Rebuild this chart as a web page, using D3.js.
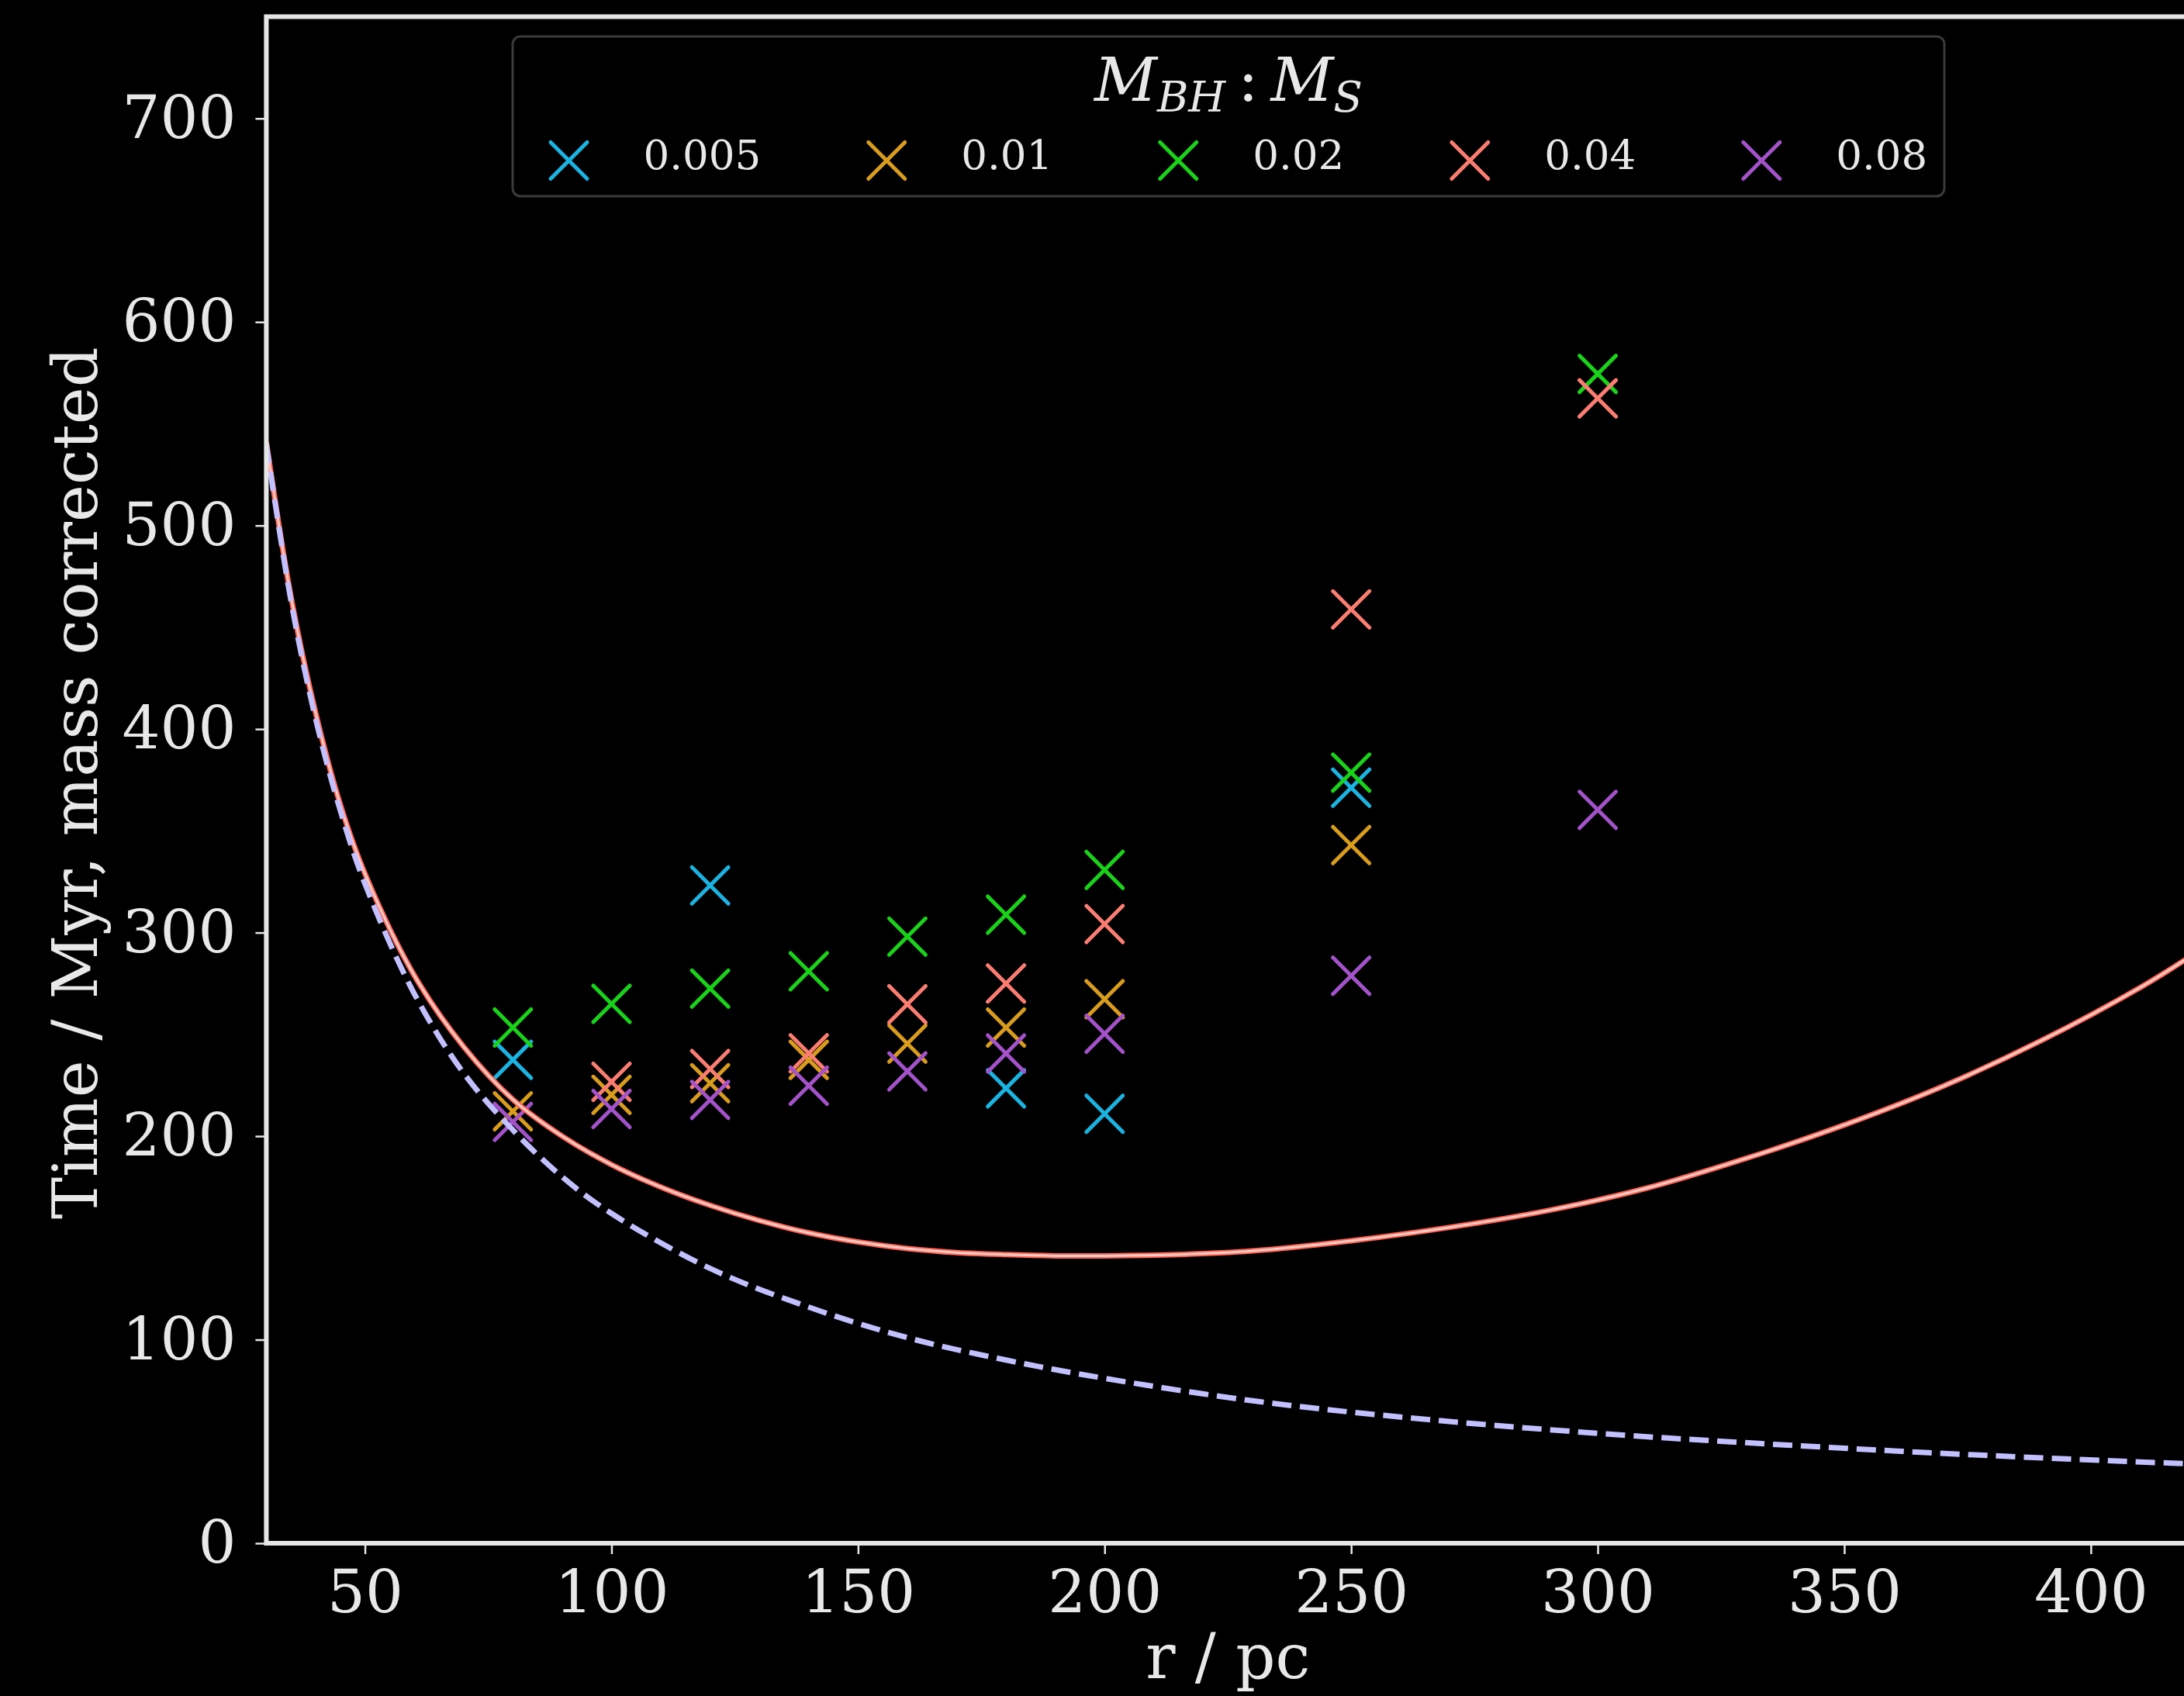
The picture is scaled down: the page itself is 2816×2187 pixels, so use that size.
<!DOCTYPE html>
<html>
<head>
<meta charset="utf-8">
<script src="https://cdn.jsdelivr.net/npm/d3@7"></script>
<style>
  html, body { margin: 0; padding: 0; background: #000; }
  svg { display: block; }
</style>
</head>
<body>
<script>
// ---------------- data ----------------
const radii = [80, 100, 120, 140, 160, 180, 200, 250, 300];
const massRatios = ["0.005", "0.01", "0.02", "0.04", "0.08"];
const seriesColors = ["#1ab4e2", "#d99c1c", "#19d319", "#fb7d72", "#a452ca"];
const t_0005 = [237.5, null, 323.2, null, null, 223.5, 211.0, 371.2, null];
const t_001  = [212.2, 220.3, 226.0, 237.5, 245.5, 253.4, 267.3, 343.0, null];
const t_002  = [253.4, 265.0, 272.5, 281.0, 298.0, 308.8, 330.8, 378.6, 574.5];
const t_004  = [null, 226.7, 233.0, 240.7, 264.8, 275.0, 304.2, 458.8, 562.5];
const t_008  = [207.0, 213.4, 217.8, 224.8, 231.8, 240.6, 250.3, 278.8, 360.3];
const seriesValues = [t_0005, t_001, t_002, t_004, t_008];

// solid curve
const solidR = [30, 35, 40, 45, 50, 60, 70, 80, 90, 100, 110, 120, 130, 140, 150, 160, 170, 180, 190, 200, 215, 230, 250, 270, 290, 310, 330, 350, 370, 390, 410, 420];
const solidT = [541, 465, 408, 363, 329, 279, 244, 218, 200, 186, 175, 166, 158.5, 152.5, 148, 144.8, 142.8, 141.8, 141.2, 141.2, 141.8, 143.6, 148.6, 155.2, 163.5, 174.5, 189, 205.5, 224.5, 247, 273, 288];
// dashed curve
const dashR = [30, 35, 40, 45, 50, 60, 70, 80, 90, 100, 120, 140, 160, 180, 200, 230, 260, 300, 340, 380, 420];
const dashT = [540, 463, 405, 360, 324, 270, 231, 203, 180, 162, 135, 116, 101, 90, 81, 70, 62, 54, 48, 43, 39];

const xTicks = [50, 100, 150, 200, 250, 300, 350, 400];
const yTicks = [0, 100, 200, 300, 400, 500, 600, 700];

// ---------------- layout ----------------
const W = 2816, H = 2187;
const FONT = "'DejaVu Serif', serif";
const svg = d3.select("body").append("svg").attr("width", W).attr("height", H)
  .style("background", "#000");
svg.append("rect").attr("width", W).attr("height", H).attr("fill", "#000");

const x = d3.scaleLinear().domain([30, 420]).range([343.4, 343.4 + 390 * 6.358]);
const y = d3.scaleLinear().domain([0, 750]).range([1990, 21.5]);

const defs = svg.append("defs");
defs.append("clipPath").attr("id", "plotclip").append("rect")
  .attr("x", x(30)).attr("y", y(750)).attr("width", x(420) - x(30)).attr("height", y(0) - y(750));

// axes
const axisColor = "#e6e6e6";
const gx = svg.append("g").attr("transform", `translate(0,${y(0)})`)
  .call(d3.axisBottom(x).tickValues(xTicks).tickFormat(d3.format("d")).tickSize(14).tickPadding(20).tickSizeOuter(0));
const gy = svg.append("g").attr("transform", `translate(${x(30)},0)`)
  .call(d3.axisLeft(y).tickValues(yTicks).tickFormat(d3.format("d")).tickSize(14).tickPadding(25).tickSizeOuter(0));
[gx, gy].forEach(g => {
  g.select(".domain").remove();
  g.selectAll(".tick line").attr("stroke", axisColor).attr("stroke-width", 2.5);
  g.selectAll(".tick text").attr("fill", "#e8e8e8").style("font-family", FONT).style("font-size", "77px");
});

// scatter markers (drawn before the lines)
const half = 23.5;
const markers = svg.append("g").attr("clip-path", "url(#plotclip)");
seriesValues.forEach((vals, si) => {
  const pts = radii.map((r, i) => ({ r, t: vals[i] })).filter(d => d.t !== null);
  markers.append("g").selectAll("path").data(pts).join("path")
    .attr("d", d => {
      const cx = x(d.r), cy = y(d.t);
      return `M${cx - half},${cy - half}L${cx + half},${cy + half}M${cx - half},${cy + half}L${cx + half},${cy - half}`;
    })
    .attr("stroke", seriesColors[si]).attr("stroke-width", 5).attr("stroke-linecap", "round").attr("fill", "none");
});

// curves
const lineGen = d3.line().x(d => x(d[0])).y(d => y(d[1])).curve(d3.curveCatmullRom.alpha(0.5));
const curves = svg.append("g").attr("clip-path", "url(#plotclip)");
const solidData = solidR.map((r, i) => [r, solidT[i]]);
const dashData = dashR.map((r, i) => [r, dashT[i]]);
curves.append("path").attr("d", lineGen(solidData)).attr("fill", "none")
  .attr("stroke", "#ff6558").attr("stroke-width", 7);
curves.append("path").attr("d", lineGen(solidData)).attr("fill", "none")
  .attr("stroke", "#ffcdc4").attr("stroke-width", 3);
curves.append("path").attr("d", lineGen(dashData)).attr("fill", "none")
  .attr("stroke", "#c2c0ff").attr("stroke-width", 7).attr("stroke-dasharray", "25,11");

// frame (spines)
svg.append("rect").attr("x", x(30)).attr("y", y(750)).attr("width", x(420) - x(30)).attr("height", y(0) - y(750))
  .attr("fill", "none").attr("stroke", axisColor).attr("stroke-width", 6);

// axis labels
svg.append("text").attr("x", (x(30) + x(420)) / 2).attr("y", 2164)
  .attr("text-anchor", "middle").attr("fill", "#e8e8e8")
  .style("font-family", FONT).style("font-size", "80px").text("r / pc");
svg.append("text").attr("transform", `translate(125,${(y(0) + y(750)) / 2 + 4}) rotate(-90)`)
  .attr("text-anchor", "middle").attr("fill", "#e8e8e8")
  .style("font-family", FONT).style("font-size", "81px").text("Time / Myr, mass corrected");

// legend
const lg = svg.append("g");
lg.append("rect").attr("x", 661).attr("y", 47).attr("width", 1846).attr("height", 206)
  .attr("rx", 10).attr("fill", "#000").attr("fill-opacity", 0.8)
  .attr("stroke", "#3a3a3a").attr("stroke-width", 3);
const title = lg.append("text").attr("x", 1584).attr("y", 130).attr("text-anchor", "middle")
  .attr("fill", "#e8e8e8").style("font-family", FONT).style("font-size", "79px");
title.append("tspan").style("font-style", "italic").text("M");
title.append("tspan").style("font-style", "italic").style("font-size", "55px").attr("dy", 14).text("BH");
title.append("tspan").attr("dy", -14).text("\u2009:\u2009");
title.append("tspan").style("font-style", "italic").text("M");
title.append("tspan").style("font-style", "italic").style("font-size", "55px").attr("dy", 14).text("S");

let cx = 733.5;
const legY = 207;
massRatios.forEach((lab, i) => {
  lg.append("path")
    .attr("d", `M${cx - half},${legY - half}L${cx + half},${legY + half}M${cx - half},${legY + half}L${cx + half},${legY - half}`)
    .attr("stroke", seriesColors[i]).attr("stroke-width", 5).attr("stroke-linecap", "round").attr("fill", "none");
  const t = lg.append("text").attr("x", cx + 96).attr("y", 218).attr("fill", "#e8e8e8")
    .style("font-family", FONT).style("font-size", "53px").text(lab);
  const wlen = t.node().getComputedTextLength();
  cx = cx + 96 + wlen + 162;
});
</script>
</body>
</html>
